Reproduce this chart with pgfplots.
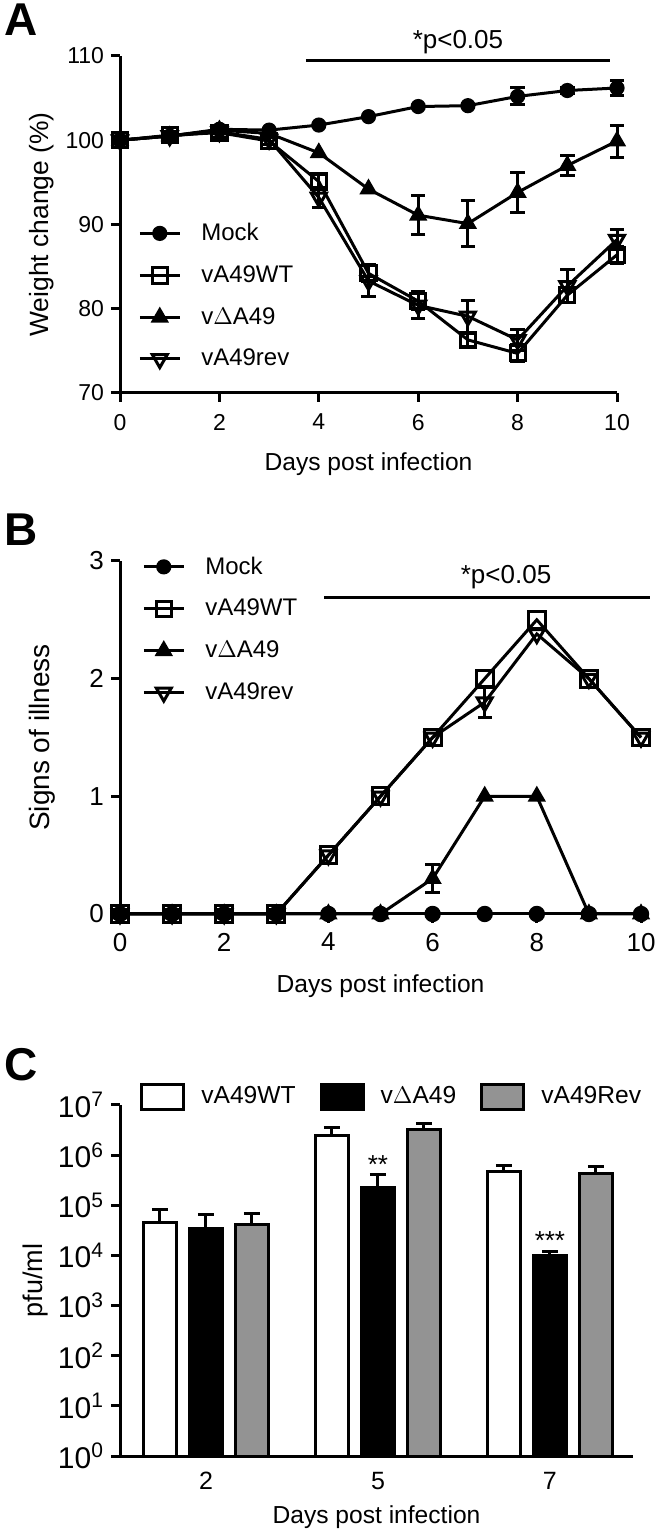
\documentclass[border=0pt]{standalone}
\usepackage{fontspec}
\setmainfont{Liberation Sans}
\usepackage{pgfplots}
\pgfplotsset{compat=1.18}

% GraphPad-like look: left/bottom axes only, thick black strokes
\pgfplotsset{
  gp/.style={
    scale only axis, clip=false,
    axis lines*=left, axis line style={line width=1.5pt, -},
    tick align=outside, major tick length=4.5pt,
    tick style={line width=1.5pt, black},
    /pgf/number format/assume math mode=true,
    tick label style={font=\fontsize{11.5}{12}\selectfont},
    every axis plot/.append style={line width=1.5pt, black},
    error bars/error bar style={line width=1.5pt, solid, black},
    error bars/error mark options={rotate=90, mark size=3.6pt, line width=1.5pt, solid, black},
  },
  xlab/.style={every axis x label/.style={at={(axis description cs:0.5,#1)}, anchor=center,
    font=\fontsize{12.3}{14}\selectfont}},
  ylab/.style 2 args={every axis y label/.style={at={(axis description cs:#1,0.5)}, rotate=90,
    anchor=center, font=\fontsize{#2}{16}\selectfont}},
  lineleg/.style={
    legend image code/.code={\draw[mark repeat=2, mark phase=2, ##1] plot coordinates {(0pt,0pt) (10pt,0pt) (20pt,0pt)};},
    legend style={draw=none, fill=none, inner sep=0pt, font=\fontsize{12}{14}\selectfont,
      nodes={inner sep=0pt}, row sep=11pt,
      /tikz/every odd column/.append style={column sep=10pt}},
    legend cell align=left,
  },
  mock/.style={black, line width=1.5pt, mark=*, mark size=3.3pt, mark options={solid, fill=black, line width=1pt}},
  wt/.style={black, line width=1.5pt, mark=square, mark size=3.8pt, mark options={solid, fill=none, line width=1.5pt}},
  dA/.style={black, line width=1.5pt, mark=triangle*, mark size=4.3pt, mark options={solid, fill=black, line width=1pt}},
  rev/.style={black, line width=1.5pt, mark=triangle, mark size=4.3pt, mark options={solid, fill=none, rotate=180, line width=1.5pt}},
}

\begin{document}
\begin{tikzpicture}
\useasboundingbox (0,0) rectangle (329.5pt,767.5pt);

% ---------------- A: weight change ----------------
\begin{axis}[gp, lineleg, at={(60pt,571pt)}, anchor=south west,
  width=248.5pt, height=168.5pt,
  xmin=0, xmax=10, ymin=70, ymax=110,
  xtick={0,2,...,10}, ytick={70,80,...,110},
  xticklabel style={yshift=-2.5pt},
  xlabel={Days post infection}, ylabel={Weight change (\%)},
  xlab=-0.212, ylab={-0.157}{13.2},
  legend style={at={(axis cs:0.36,90.2)}, anchor=north west}]
\addplot[mock, error bars/.cd, y dir=both, y explicit] coordinates {
  (0,100) (1,100.5) (2,101.3) (3,101.2) (4,101.8) (5,102.8) (6,104.0)
  (7,104.1) (8,105.2) +- (0,1.0) (9,105.9) +- (0,0.4) (10,106.2) +- (0,0.9)};
\addlegendentry{Mock}
\addplot[wt, error bars/.cd, y dir=both, y explicit] coordinates {
  (0,100) (1,100.6) (2,100.9) +- (0,0.6) (3,99.9) +- (0,0.4) (4,95.1) +- (0,0.8)
  (5,84.2) +- (0,1.0) (6,80.9) +- (0,1.0) (7,76.3) +- (0,0.8) (8,74.7) +- (0,1.0)
  (9,81.6) +- (0,0.9) (10,86.4) +- (0,1.0)};
\addlegendentry{vA49WT}
\addplot[dA, error bars/.cd, y dir=both, y explicit] coordinates {
  (0,100) (1,100.5) (2,101.2) (3,100.8) (4,98.5) (5,94.2)
  (6,91.1) +- (0,2.3) (7,90.1) +- (0,2.7) (8,93.8) +- (0,2.35)
  (9,97.0) +- (0,1.2) (10,99.9) +- (0,1.9)};
\addlegendentry{v$\Delta$A49}
\addplot[rev, error bars/.cd, y dir=both, y explicit] coordinates {
  (0,100) (1,100.5) (2,101.0) (3,100.1) (4,93.2) +- (0,1.2) (5,83.3) +- (0,1.9)
  (6,80.4) +- (0,1.6) (7,79.1) +- (0,1.9) (8,76.3) +- (0,1.2)
  (9,82.7) +- (0,2.0) (10,88.2) +- (0,1.2)};
\addlegendentry{vA49rev}
\draw[line width=1.5pt] (axis cs:3.74,109.5) -- (axis cs:9.86,109.5);
\node[font=\fontsize{13}{13}\selectfont] at (axis cs:6.8,111.6) {*p<0.05};
\end{axis}

% ---------------- B: signs of illness ----------------
\begin{axis}[gp, lineleg, at={(60pt,310.5pt)}, anchor=south west,
  width=260.5pt, height=176.5pt,
  xmin=0, xmax=10, ymin=0, ymax=3,
  xtick={0,2,...,10}, ytick={0,1,2,3},
  tick label style={font=\fontsize{13}{14}\selectfont},
  xticklabel style={yshift=-1.5pt},
  xlabel={Days post infection}, ylabel={Signs of illness},
  xlab=-0.203, ylab={-0.15}{14},
  legend style={at={(axis cs:0.42,3.04)}, anchor=north west}]
\addplot[wt, mark size=4.2pt, forget plot] coordinates {
  (0,0) (1,0) (2,0) (3,0) (4,0.5) (5,1.0) (6,1.5) (7,2.0) (8,2.5) (9,2.0) (10,1.5)};
\addplot[mock, mark size=3.6pt, forget plot] coordinates {
  (0,0) (1,0) (2,0) (3,0) (4,0) (5,0) (6,0) (7,0) (8,0) (9,0) (10,0)};
\addplot[dA, forget plot, error bars/.cd, y dir=both, y explicit] coordinates {
  (0,0) (1,0) (2,0) (3,0) (4,0) (5,0) (6,0.3) +- (0,0.12) (7,1.0) (8,1.0) (9,0) (10,0)};
\addplot[rev, forget plot, error bars/.cd, y dir=both, y explicit] coordinates {
  (0,0) (1,0) (2,0) (3,0) (4,0.5) (5,1.0) (6,1.5) (7,1.8) +- (0,0.13) (8,2.38) (9,2.0) (10,1.5)};
% legend order as in the figure
\addlegendimage{mock}\addlegendentry{Mock}
\addlegendimage{wt}\addlegendentry{vA49WT}
\addlegendimage{dA}\addlegendentry{v$\Delta$A49}
\addlegendimage{rev}\addlegendentry{vA49rev}
\draw[line width=1.5pt] (axis cs:3.92,2.69) -- (axis cs:10.17,2.69);
\node[font=\fontsize{13}{13}\selectfont] at (axis cs:7.41,2.86) {*p<0.05};
\end{axis}

% ---------------- C: viral titres ----------------
\begin{axis}[gp, at={(60pt,39.5pt)}, anchor=south west,
  width=256.5pt, height=175.5pt,
  ymode=log, ymin=1, ymax=1e7, xmin=-0.5, xmax=2.483,
  ybar=6.5pt, bar width=16.5pt,
  xtick={0,1,2}, xticklabels={2,5,7}, xtick style={draw=none},
  ytick={1,10,100,1000,1e4,1e5,1e6,1e7},
  yticklabels={10\textsuperscript{0},10\textsuperscript{1},10\textsuperscript{2},10\textsuperscript{3},
    10\textsuperscript{4},10\textsuperscript{5},10\textsuperscript{6},10\textsuperscript{7}},
  yminorticks=false,
  yticklabel style={font=\fontsize{15}{15}\selectfont},
  xticklabel style={font=\fontsize{12.5}{14}\selectfont},
  xlabel={Days post infection}, ylabel={pfu/ml},
  xlab=-0.175, ylab={-0.165}{13.5},
  error bars/error mark options={rotate=90, mark size=4pt, line width=1.5pt, black},
  every axis plot post/.append style={
    legend image code/.code={\draw[#1, line width=1.5pt] (0pt,-6.25pt) rectangle (21pt,6.25pt);}},
  legend style={at={(axis cs:-0.384,1.45e7)}, anchor=west, draw=none, fill=none,
    inner sep=0pt, font=\fontsize{12.3}{14}\selectfont, legend columns=3,
    nodes={inner sep=0pt},
    /tikz/every odd column/.append style={column sep=8pt},
    /tikz/every even column/.append style={column sep=12pt}}]
\addplot[fill=white, draw=black, line width=1.5pt, error bars/.cd, y dir=plus, y explicit] coordinates {
  (0,4.6e4) +- (0,3.5e4) (1,2.5e6) +- (0,1.0e6) (2,4.8e5) +- (0,1.3e5)};
\addlegendentry{vA49WT}
\addplot[fill=black, draw=black, line width=1.5pt, error bars/.cd, y dir=plus, y explicit] coordinates {
  (0,3.5e4) +- (0,3.0e4) (1,2.3e5) +- (0,1.8e5) (2,9.8e3) +- (0,2.2e3)};
\addlegendentry{v$\Delta$A49}
\addplot[fill={rgb,255:red,147;green,147;blue,147}, draw=black, line width=1.5pt, error bars/.cd, y dir=plus, y explicit] coordinates {
  (0,4.2e4) +- (0,2.6e4) (1,3.2e6) +- (0,1.0e6) (2,4.4e5) +- (0,1.4e5)};
\addlegendentry{vA49Rev}
\node[font=\fontsize{13}{13}\selectfont] at (axis cs:1,6.5e5) {**};
\node[font=\fontsize{13}{13}\selectfont] at (axis cs:2,2.0e4) {***};
\end{axis}

\node[font=\bfseries\fontsize{23}{23}\selectfont] at (10.5pt,757.5pt) {A};
\node[font=\bfseries\fontsize{23}{23}\selectfont] at (10.5pt,502.5pt) {B};
\node[font=\bfseries\fontsize{23}{23}\selectfont] at (10.5pt,235pt) {C};
\end{tikzpicture}
\end{document}
